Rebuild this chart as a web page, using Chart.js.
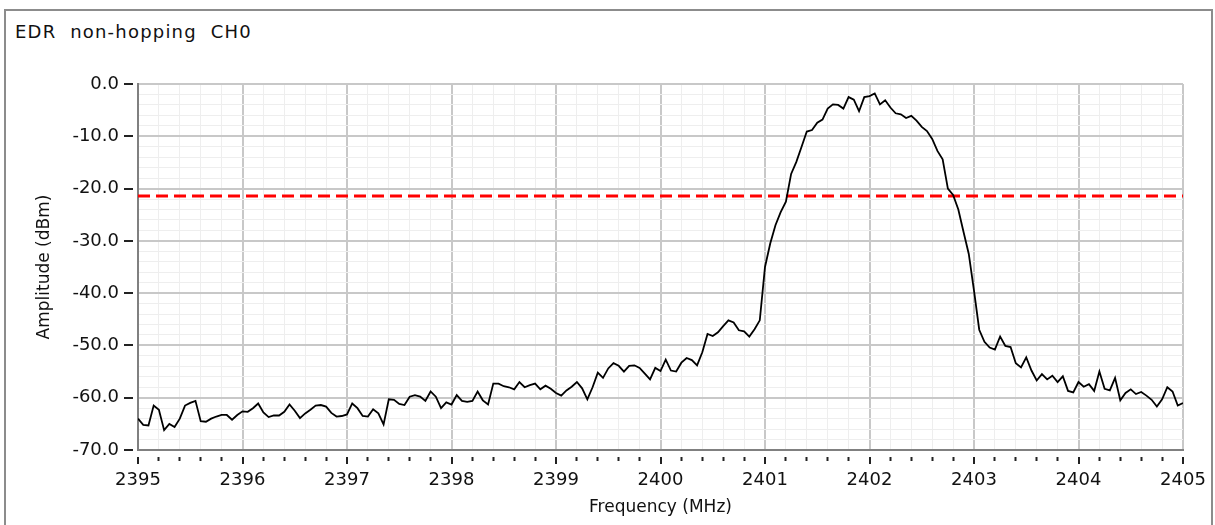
<!DOCTYPE html>
<html>
<head>
<meta charset="utf-8">
<script src="https://cdn.jsdelivr.net/npm/chart.js"></script>
<style>
  body { margin: 0; background: #fff; }
  #wrap { position: relative; width: 1215px; height: 525px; overflow: hidden; background: #fff; }
  #panel { position: absolute; left: 4px; top: 9px; width: 1209px; height: 530px; border: 2px solid #8c8c8c; box-sizing: border-box; }
  #title { position: absolute; left: 15px; top: 21px; font: 18px "DejaVu Sans"; letter-spacing: 1.2px; color: #111; white-space: pre; }
  canvas { position: absolute; left: 0; top: 0; }
</style>
</head>
<body>
<div id="wrap">
  <div id="panel"></div>
  <div id="title">EDR  non-hopping  CH0</div>
  <canvas id="myChart" width="1215" height="525"></canvas>
</div>
<script>
// sweep: 2395 MHz to 2405 MHz, one reading every 0.05 MHz
var freqStart = 2395;
var freqStep = 0.05;
var amplitude = [
  -64.0, -65.2, -65.3, -61.5, -62.3, -66.2, -65.0, -65.6, -64.0, -61.5,
  -61.0, -60.6, -64.5, -64.6, -64.0, -63.6, -63.3, -63.3, -64.2, -63.3,
  -62.6, -62.7, -62.0, -61.1, -62.8, -63.7, -63.4, -63.4, -62.7, -61.3,
  -62.5, -63.9, -63.0, -62.3, -61.5, -61.4, -61.7, -62.9, -63.6, -63.5,
  -63.2, -61.1, -62.0, -63.5, -63.6, -62.2, -63.0, -65.1, -60.3, -60.4,
  -61.2, -61.4, -59.8, -59.5, -59.8, -60.6, -58.8, -59.8, -62.0, -60.9,
  -61.3, -59.5, -60.6, -60.8, -60.6, -58.8, -60.5, -61.3, -57.3, -57.3,
  -57.8, -58.0, -58.4, -57.0, -58.0, -57.6, -57.3, -58.4, -57.7, -58.3,
  -59.1, -59.6, -58.6, -57.9, -57.0, -58.2, -60.3, -58.0, -55.2, -56.2,
  -54.4, -53.4, -53.9, -55.0, -53.9, -53.8, -54.3, -55.4, -56.5, -54.3,
  -54.9, -52.7, -54.8, -55.0, -53.3, -52.4, -52.8, -53.8, -51.3, -47.8,
  -48.2, -47.5, -46.3, -45.2, -45.6, -47.1, -47.3, -48.3, -46.9, -45.2,
  -35.0, -30.5, -27.0, -24.5, -22.5, -17.2, -14.9, -12.0, -9.1, -8.8,
  -7.4, -6.8, -4.7, -3.9, -4.0, -4.7, -2.5, -3.0, -5.2, -2.5,
  -2.3, -1.8, -3.9, -3.1, -4.5, -5.6, -5.8, -6.5, -6.1, -7.0,
  -8.2, -9.0, -10.5, -12.8, -14.4, -20.0, -21.2, -24.0, -28.3, -32.5,
  -39.5, -47.0, -49.3, -50.4, -50.8, -48.3, -50.1, -50.3, -53.4, -54.2,
  -52.3, -54.8, -56.7, -55.5, -56.5, -55.8, -57.0, -55.9, -58.7, -59.0,
  -57.0, -57.9, -57.4, -58.7, -55.0, -58.3, -58.6, -56.2, -60.5, -59.1,
  -58.4, -59.3, -58.9, -59.6, -60.4, -61.7, -60.3, -58.0, -58.8, -61.5,
  -61.0
];
// -20 dB limit line
var limitFreq = [2395, 2405];
var limitLevel = [-21.4, -21.4];

var tracePts = amplitude.map(function (v, i) {
  return {x: freqStart + i * freqStep, y: v};
});
var limitPts = limitFreq.map(function (f, i) {
  return {x: f, y: limitLevel[i]};
});

function isMajor(v, step) {
  var r = v / step;
  return Math.abs(r - Math.round(r)) < 1e-6;
}

var tickFont = {family: "DejaVu Sans", size: 18};

new Chart("myChart", {
  type: "line",
  data: {
    datasets: [{
      data: tracePts,
      borderColor: "#000",
      borderWidth: 1.8,
      pointRadius: 0,
      tension: 0
    }, {
      data: limitPts,
      borderColor: "#ff0000",
      borderWidth: 3,
      borderDash: [12, 6],
      pointRadius: 0
    }]
  },
  options: {
    responsive: false,
    animation: false,
    layout: {padding: {top: 84, right: 32, bottom: 0, left: 0}},
    plugins: {legend: {display: false}, tooltip: {enabled: false}},
    scales: {
      x: {
        type: "linear",
        min: 2395,
        max: 2405,
        afterFit: function (s) { s.height = 75; },
        border: {color: "#808080", width: 2},
        grid: {
          color: function (c) { return isMajor(c.tick.value, 1) ? "#c8c8c8" : "#eeeeee"; },
          lineWidth: function (c) { return isMajor(c.tick.value, 1) ? 2 : 1; },
          tickLength: 14,
          tickColor: "#222",
          tickWidth: 2,
          tickBorderDash: function (c) { return isMajor(c.tick.value, 1) ? [0, 6, 8, 100] : [0, 6, 4, 100]; }
        },
        ticks: {
          stepSize: 0.2,
          maxTicksLimit: 1000,
          autoSkip: false,
          maxRotation: 0,
          padding: 6,
          color: "#111",
          font: tickFont,
          callback: function (v) { return isMajor(v, 1) ? String(Math.round(v)) : ""; }
        },
        title: {
          display: true,
          text: "Frequency (MHz)",
          color: "#111",
          font: {family: "DejaVu Sans", size: 17},
          padding: {top: 0, bottom: 7}
        }
      },
      y: {
        min: -70,
        max: 0,
        afterFit: function (s) { s.width = 138; },
        border: {color: "#808080", width: 2},
        grid: {
          color: function (c) { return isMajor(c.tick.value, 10) ? "#c8c8c8" : "#eeeeee"; },
          lineWidth: function (c) { return isMajor(c.tick.value, 10) ? 2 : 1; },
          tickLength: 14,
          tickWidth: 2,
          tickColor: function (c) { return isMajor(c.tick.value, 10) ? "#222" : "rgba(0,0,0,0)"; },
          tickBorderDash: [9, 100]
        },
        ticks: {
          stepSize: 2,
          maxTicksLimit: 1000,
          autoSkip: false,
          padding: 5,
          color: "#111",
          font: tickFont,
          callback: function (v) { return isMajor(v, 10) ? v.toFixed(1) : ""; }
        },
        title: {
          display: true,
          text: "Amplitude (dBm)",
          color: "#111",
          font: {family: "DejaVu Sans", size: 17},
          padding: {top: 34, bottom: 0}
        }
      }
    }
  }
});
</script>
</body>
</html>
